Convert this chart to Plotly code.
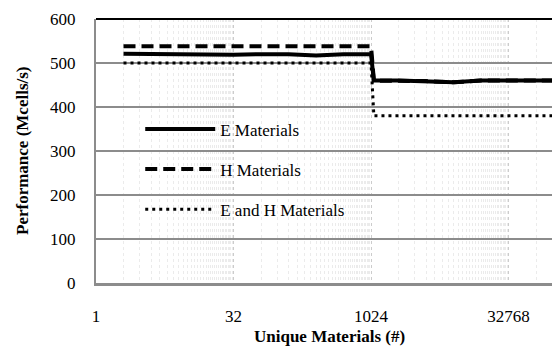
import math
import plotly.graph_objects as go

# ---- data ----
x_vals = [2, 4, 8, 16, 32, 64, 128, 256, 512, 1024, 1100, 2048, 4096, 8192,
          16384, 32768, 65536, 131072]
e_materials = [521, 520, 520, 520, 519, 520, 520, 517, 520, 520, 460, 460, 459,
               456, 460, 460, 459, 460]
h_materials = [538, 538, 538, 538, 538, 538, 538, 538, 538, 538, 460, 460, 459,
               456, 460, 460, 459, 460]
eh_materials = [500, 500, 500, 500, 500, 500, 500, 500, 500, 500, 380, 380, 380,
                380, 380, 380, 380, 380]

x_tick_vals = [1, 32, 1024, 32768]
x_tick_text = ["1", "32", "1024", "32768"]
y_tick_vals = [0, 100, 200, 300, 400, 500, 600]

FONT = "Liberation Serif, Times New Roman, serif"

minor_vals = [n * 32 ** k for k in range(4) for n in range(2, 32)]

fig = go.Figure()
fig.add_trace(go.Scatter(x=x_vals, y=h_materials, mode="lines", name="H Materials",
                         legendgroup="b", legendrank=2,
                         line=dict(color="black", width=4, dash="12px,6px")))
fig.add_trace(go.Scatter(x=x_vals, y=eh_materials, mode="lines", name="E and H Materials",
                         legendgroup="c", legendrank=3,
                         line=dict(color="black", width=3, dash="3px,4px")))
fig.add_trace(go.Scatter(x=x_vals, y=e_materials, mode="lines", name="E Materials",
                         legendgroup="a", legendrank=1,
                         line=dict(color="black", width=4)))

fig.update_layout(
    width=552, height=347,
    margin=dict(l=96, r=0, t=19, b=64),
    plot_bgcolor="white", paper_bgcolor="white",
    font=dict(family=FONT, size=17, color="black"),
    showlegend=True,
    legend=dict(x=0.097, y=0.65, xanchor="left", yanchor="top",
                bgcolor="rgba(0,0,0,0)", tracegroupgap=15, itemwidth=70,
                traceorder="grouped", font=dict(family=FONT, size=17)),
)
fig.update_xaxes(
    type="log",
    range=[0, math.log10(2 ** 16.58)],
    tickvals=x_tick_vals, ticktext=x_tick_text,
    showline=True, linecolor="#8c8c8c", linewidth=3,
    showgrid=True, gridcolor="#cccccc", griddash="dot", gridwidth=1,
    minor=dict(tickvals=minor_vals, showgrid=True, gridcolor="#ebebeb",
               griddash="dot", gridwidth=1),
    ticks="", ticklabelstandoff=16,
    zeroline=False,
)
fig.update_yaxes(
    range=[0, 600], tickvals=y_tick_vals,
    showline=True, linecolor="#8c8c8c", linewidth=2,
    showgrid=True, gridcolor="#8c8c8c", gridwidth=1.5,
    ticks="", ticklabelstandoff=15, zeroline=False,
)
fig.add_shape(type="line", xref="paper", yref="paper", x0=0, x1=1, y0=1, y1=1,
              line=dict(color="black", width=2))
fig.add_annotation(text="<b>Unique Materials (#)</b>", xref="paper", yref="paper",
                   x=(329 - 96) / 456, y=-53 / 264, showarrow=False,
                   xanchor="center", yanchor="middle",
                   font=dict(family=FONT, size=17))
fig.add_annotation(text="<b>Performance (Mcells/s)</b>", xref="paper", yref="paper",
                   x=-(96 - 22) / 456, y=0.5, showarrow=False, textangle=-90,
                   xanchor="center", yanchor="middle",
                   font=dict(family=FONT, size=17))

fig.write_html("out.html", config={"displayModeBar": False},
               post_script="document.body.style.margin='0';")
